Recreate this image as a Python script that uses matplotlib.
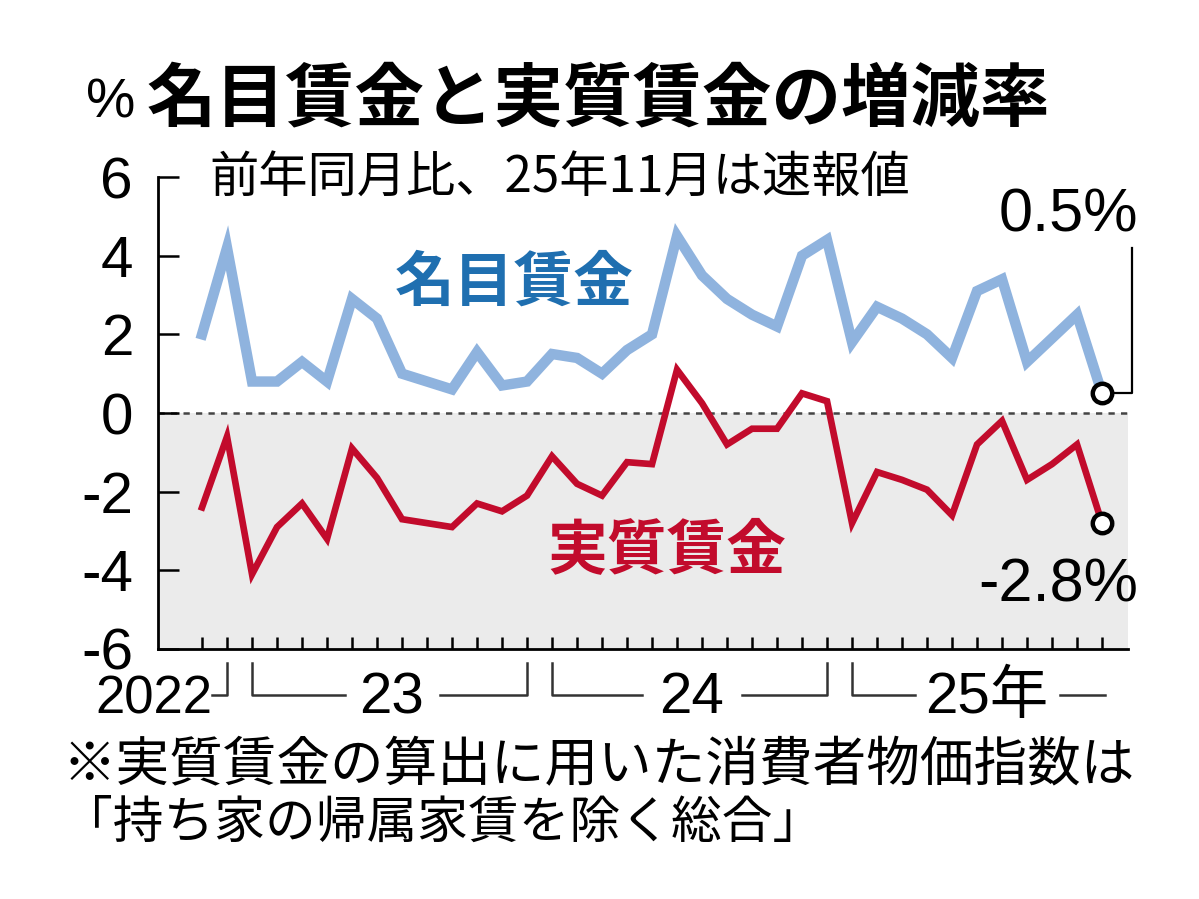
import numpy as np
import matplotlib
matplotlib.use("Agg")
import matplotlib.pyplot as plt
import matplotlib.transforms as mtransforms

plt.rcParams['font.family'] = ['Noto Sans CJK JP', 'DejaVu Sans']

# month index 0 = 2022-11 ... 36 = 2025-11
nominal = [2.0, 4.2, 0.8, 0.8, 1.3, 0.8, 2.9, 2.4, 1.0, 0.8, 0.6, 1.55, 0.7, 0.8, 1.5, 1.4, 1.0, 1.6,
           2.0, 4.5, 3.5, 2.9, 2.5, 2.2, 4.0, 4.4, 1.8, 2.7, 2.4, 2.0, 1.4, 3.1, 3.4, 1.3, 1.9, 2.5, 0.5]
real = [-2.4, -0.6, -4.1, -2.9, -2.3, -3.2, -0.9, -1.65, -2.7, -2.8, -2.9, -2.3, -2.5, -2.1, -1.1, -1.8, -2.1, -1.25,
        -1.3, 1.1, 0.25, -0.8, -0.4, -0.4, 0.5, 0.3, -2.8, -1.5, -1.7, -1.95, -2.6, -0.8, -0.2, -1.7, -1.3, -0.8, -2.8]
y_ticks = [-6, -4, -2, 0, 2, 4, 6]
year_labels = ["2022", "23", "24", "25年"]
year_spans = [(0, 1), (2, 13), (14, 25), (26, 36)]

NUM_FONT = 'Liberation Sans'
BLUE_LINE = '#8fb3de'
BLUE_TEXT = '#1f6fb0'
RED = '#c20b2c'

x = np.arange(len(nominal))

fig = plt.figure(figsize=(11.99, 8.99), dpi=100)
ax = fig.add_axes([0.1318, 0.2781, 0.8090, 0.5250])

ax.axhspan(-6, 0, color='#ebebeb', zorder=0, lw=0)
ax.axhline(0, color='#444444', lw=1.8, ls=(0, (2.5, 2.5)), zorder=1)

ax.plot(x, nominal, color=BLUE_LINE, lw=7.5, solid_joinstyle='miter', zorder=3)
ax.plot(x, real, color=RED, lw=4.8, solid_joinstyle='miter', zorder=3)

# end markers
ax.plot([x[-1]], [nominal[-1]], 'o', ms=14, mfc='white', mec='black', mew=3.2, zorder=5)
ax.plot([x[-1]], [real[-1]], 'o', ms=14, mfc='white', mec='black', mew=3.2, zorder=5)

ax.set_xlim(-1.76, 37.04)
ax.set_ylim(-6, 6)

for s in ['top', 'right']:
    ax.spines[s].set_visible(False)
ax.spines['left'].set_linewidth(2)
ax.spines['bottom'].set_linewidth(2)

ax.set_yticks(y_ticks)
ax.set_yticklabels([str(v) for v in y_ticks], fontsize=42, family=NUM_FONT)
ax.tick_params(axis='y', direction='in', length=15, width=1.8, pad=18)
ax.set_xticks(x)
ax.set_xticklabels([])
ax.tick_params(axis='x', direction='in', length=9, width=1.8)

# leader for nominal end value
ax.plot([x[-1] + 0.3, x[-1] + 1.2, x[-1] + 1.2], [nominal[-1], nominal[-1], 4.2],
        color='black', lw=1.6, zorder=4, clip_on=False)
ax.text(x[-1] + 1.45, 5.0, f"{nominal[-1]}%", fontsize=44, family=NUM_FONT,
        ha='right', va='center')
ax.text(x[-1] + 1.45, -4.4, f"{real[-1]}%", fontsize=44, family=NUM_FONT,
        ha='right', va='center')

# series labels
ax.text(12.5, 3.3, "名目賃金", color=BLUE_TEXT, fontsize=43, fontweight='bold',
        ha='center', va='center')
ax.text(18.6, -3.5, "実質賃金", color=RED, fontsize=43, fontweight='bold',
        ha='center', va='center')

# year brackets below axis
trans = mtransforms.blended_transform_factory(ax.transData, ax.transAxes)
y_top, y_bot = -0.03, -0.098
y_txt = -0.104
kw = dict(color='#333333', lw=1.8, transform=trans, clip_on=False)
label_half = [0, 1.9, 2.0, 2.9]
for i, (lab, (a, b)) in enumerate(zip(year_labels, year_spans)):
    if i == 0:
        ax.plot([b - 0.6, b, b], [y_bot, y_bot, y_top], **kw)
        ax.text(b - 0.6, y_txt - 0.004, lab, transform=trans, fontsize=38, family=NUM_FONT,
                ha='right', va='center')
        continue
    c = (a + b) / 2 + (0.4 if i == 3 else 0.1)
    h = label_half[i]
    ax.plot([a, a, c - h], [y_top, y_bot, y_bot], **kw)
    if i == 3:
        ax.plot([c + h, b + 0.1], [y_bot, y_bot], **kw)
    else:
        ax.plot([c + h, b, b], [y_bot, y_bot, y_top], **kw)
    fam = [NUM_FONT, 'Noto Sans CJK JP']
    ax.text(c, y_txt, lab, transform=trans, fontsize=42, family=fam,
            ha='center', va='center')

# titles and notes
fig.text(0.092, 0.885, "%", fontsize=40, family=NUM_FONT, ha='center', va='center')
fig.text(0.122, 0.889, "名目賃金と実質賃金の増減率", fontsize=50, fontweight='bold',
         ha='left', va='center')
fig.text(0.175, 0.802, "前年同月比、25年11月は速報値", fontsize=35.5,
         ha='left', va='center')
fig.text(0.052, 0.148, "※実質賃金の算出に用いた消費者物価指数は", fontsize=38.6,
         ha='left', va='center')
fig.text(0.052, 0.084, "「持ち家の帰属家賃を除く総合」", fontsize=36.5,
         ha='left', va='center')

fig.savefig("out.png", dpi=100, facecolor='white')
